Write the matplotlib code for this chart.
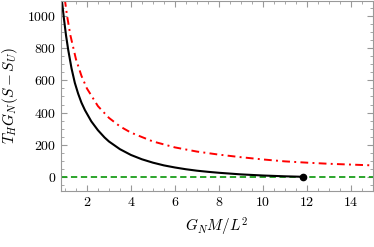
import matplotlib
matplotlib.use("Agg")
import matplotlib.pyplot as plt
from matplotlib.ticker import MultipleLocator

plt.rcParams["font.family"] = "cmr10"
plt.rcParams["mathtext.fontset"] = "cm"
plt.rcParams["axes.formatter.use_mathtext"] = True

# black curve: T_H G_N (S - S_U)
mass_black = [0.86, 0.95, 1.05, 1.15, 1.3, 1.45, 1.6, 1.75, 1.91, 2.2, 2.5,
              2.8, 3.0, 3.5, 4.0, 4.5, 5.0, 5.5, 6.0, 6.5, 7.0, 7.5, 8.0,
              9.0, 10.0, 11.0, 11.83]
entropy_black = [1100, 990, 880, 790, 675, 585, 518, 462, 415, 345, 290,
                 245, 220, 172, 136, 109, 88, 71, 58, 47, 38, 31, 25,
                 15, 8, 3, 0]

# red dash-dot curve
mass_red = [0.98, 1.1, 1.25, 1.5, 1.75, 2.0, 2.5, 3.0, 3.5, 4.0, 5.0, 6.0,
            7.0, 8.0, 9.0, 10.0, 11.0, 12.0, 13.0, 14.0, 15.0]
entropy_red = [1120, 1000, 880, 733, 629, 550, 440, 367, 314, 275, 220, 183,
               157, 138, 122, 108, 96, 88, 81, 76, 71]

# end point of the black curve
end_mass = [11.83]
end_value = [0]

fig = plt.figure(figsize=(3.74, 2.47), dpi=100)
ax = fig.add_axes([0.163, 0.227, 0.834, 0.770])

ax.axhline(0, color="#1a9e1a", linestyle=(0, (3.5, 2)), linewidth=1.3)
ax.plot(mass_red, entropy_red, color="#ff0000", linewidth=1.4,
        linestyle=(0, (4, 2.2, 1, 2.2)))
ax.plot(mass_black, entropy_black, color="black", linewidth=1.5)
ax.plot(end_mass, end_value, "o", color="black", markersize=4.5)

ax.set_xlim(0.82, 15)
ax.set_ylim(-88, 1096)

ax.xaxis.set_major_locator(MultipleLocator(2))
ax.xaxis.set_minor_locator(MultipleLocator(0.5))
ax.yaxis.set_major_locator(MultipleLocator(200))
ax.yaxis.set_minor_locator(MultipleLocator(50))
ax.tick_params(which="both", direction="in", top=True, right=True,
               color="#999999", labelsize=10)
ax.tick_params(which="major", length=4)
ax.tick_params(which="minor", length=2)
for s in ax.spines.values():
    s.set_color("#999999")
    s.set_linewidth(0.8)

ax.set_xlabel(r"$G_N M/L^2$", fontsize=11, labelpad=5)
ax.set_ylabel(r"$T_H G_N(S-S_U)$", fontsize=11, labelpad=5)

fig.savefig("out.png", dpi=100)
